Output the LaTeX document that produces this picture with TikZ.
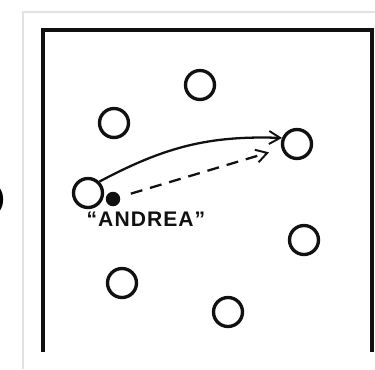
\documentclass[tikz,border=0pt]{standalone}
\usepackage{fontspec}
\setsansfont{Liberation Sans}
\usepackage{tikz}
\usetikzlibrary{arrows.meta,positioning}
\definecolor{ink}{HTML}{111111}
\definecolor{edgegray}{HTML}{E2E2E2}
\tikzset{
  >={Straight Barb[length=2.2mm,width=2.6mm,line width=1.1pt]},
  frame/.style={draw=ink,line width=2pt},
  person/.style={circle,minimum size=5.8mm,inner sep=0pt,draw=ink,fill=white,line width=1.9pt},
  ball/.style={circle,minimum size=2.9mm,inner sep=0pt,fill=ink},
  pass/.style={->,line width=1.3pt,color=ink},
  dashpass/.style={->,line width=1.3pt,color=ink,dash pattern=on 2.4mm off 1.6mm},
  tag/.style={font=\sffamily\bfseries\large\addfontfeature{LetterSpace=5},text=ink},
}

\begin{document}
\begin{tikzpicture}[x=0.02cm,y=-0.02cm]
  \useasboundingbox (0,0) rectangle (375,369);
  % page edge
  \draw[edgegray,line width=1pt] (23,369) -- (23,12) -- (375,12);
  \node[font=\sffamily\bfseries\Large,anchor=east,inner sep=0pt] (paren) at (5,200) {)};
  % court
  \draw[frame] (43,352) -- (43,30) -- (372,30) -- (372,352);
  % players
  \node[person] (top) at (200,85) {};
  \node[person] (upleft) at (114,123) {};
  \node[person] (recv) at (297,144) {};
  \node[person] (andrea) at (88,193) {};
  \node[person] (lowright) at (304,240) {};
  \node[person] (lowleft) at (122,283) {};
  \node[person] (bottom) at (228,312) {};
  \node[ball] (ball) at (113,199) {};
  \node[tag] (name) at (146,219) {``ANDREA''};
  % passes
  \draw[pass] (andrea.45) to[out=28,in=178] (recv.158);
  \draw[dashpass,shorten <=2.2mm,shorten >=2.6mm] (ball) -- (recv);
\end{tikzpicture}
\end{document}
